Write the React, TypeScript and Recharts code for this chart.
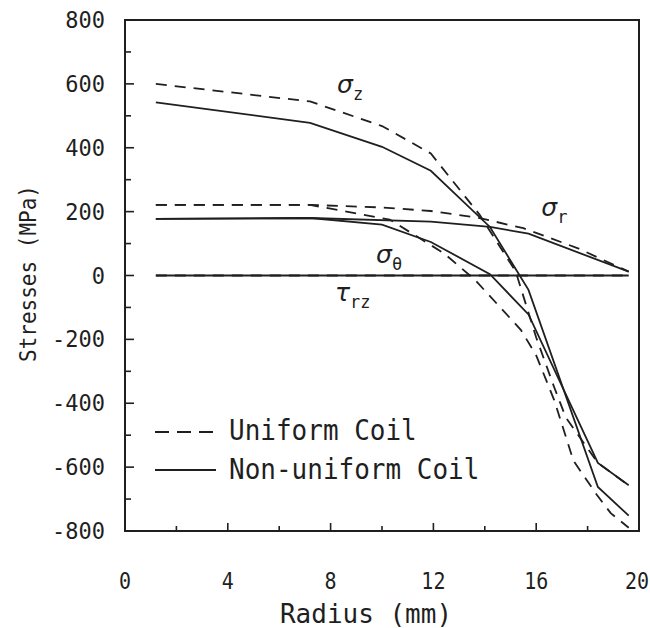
import React from "react";
import { LineChart, Line, XAxis, YAxis, ReferenceArea, ReferenceDot } from "recharts";

const MONO = "'DejaVu Sans Mono', monospace";
const SANS = "'DejaVu Sans', sans-serif";
const INK = "#1f1f1f";

const xTicks = [0, 2, 4, 6, 8, 10, 12, 14, 16, 18, 20];
const xLabelled = [0, 4, 8, 12, 16, 20];
const yTicks = [-800, -700, -600, -500, -400, -300, -200, -100, 0, 100, 200, 300, 400, 500, 600, 700, 800];
const yLabelled = [-800, -600, -400, -200, 0, 200, 400, 600, 800];

// Non-uniform coil (solid)
const nuSzR = [1.2, 7.2, 10, 11.9, 14.2, 15.7, 18.4, 19.6];
const nuSzS = [542, 478, 403, 328, 152, -45, -662, -752];
const nuStR = [1.2, 7.2, 10, 11.9, 14.2, 15.7, 18.4, 19.6];
const nuStS = [177, 180, 159, 105, 4, -122, -587, -657];
const nuSrR = [1.2, 7.2, 11.9, 14.2, 15.7, 19.6];
const nuSrS = [177, 180, 169, 152, 131, 12];
const nuTrzR = [1.2, 19.6];
const nuTrzS = [0, 0];

// Uniform coil (dashed)
const uSzR = [1.2, 7.2, 10, 11.9, 13.8, 15.2, 16, 16.7, 17.15, 18.4, 19.6];
const uSzS = [600, 545, 468, 382, 190, 13, -194, -350, -444, -587, -657];
const uStR = [1.2, 7.2, 10.3, 12.4, 13.6, 15.4, 16, 16.7, 17.45, 18.35, 18.9, 19.6];
const uStS = [221, 221, 175, 70, -12, -170, -250, -390, -580, -686, -744, -790];
const uSrR = [1.2, 7.2, 10, 11.9, 13.8, 15.5, 17.6, 19.6];
const uSrS = [221, 221, 213, 202, 180, 148, 86, 12];
const uTrzR = [1.2, 19.6];
const uTrzS = [0, 0];

// curve name positions (left/baseline of the symbol, data units)
const curveLabels = [
  { x: 8.25, y: 570, main: "σ", sub: "z" },
  { x: 16.2, y: 187, main: "σ", sub: "r" },
  { x: 9.77, y: 40, main: "σ", sub: "θ" },
  { x: 8.17, y: -80, main: "τ", sub: "rz" },
];

const pts = (r: number[], s: number[]) => r.map((x, i) => ({ x, y: s[i] }));

const solid = [pts(nuSzR, nuSzS), pts(nuStR, nuStS), pts(nuSrR, nuSrS), pts(nuTrzR, nuTrzS)];
const dashed = [pts(uSzR, uSzS), pts(uStR, uStS), pts(uSrR, uSrS), pts(uTrzR, uTrzS)];

function Stretch({ x, y, size, sy, anchor, children, rotate }: any) {
  const t = rotate
    ? `translate(${x},${y}) rotate(${rotate}) scale(1,${sy})`
    : `translate(${x},${y}) scale(1,${sy})`;
  return (
    <text transform={t} x={0} y={0} fontFamily={MONO} fontSize={size} fill={INK} textAnchor={anchor || "start"}>
      {children}
    </text>
  );
}

function XTick(props: any) {
  const { x, y, payload } = props;
  const v = payload.value;
  const major = xLabelled.includes(v);
  // keep the last label inside the 650px picture
  const half = (String(v).length * 20 * 0.602) / 2;
  const lx = Math.min(x, 649 - half);
  return (
    <g>
      <line x1={x} x2={x} y1={y} y2={y - (major ? 8 : 5)} stroke={INK} strokeWidth={1.6} />
      {major ? (
        <Stretch x={lx} y={y + 58} size={20} sy={1.12} anchor="middle">
          {v}
        </Stretch>
      ) : null}
    </g>
  );
}

function YTick(props: any) {
  const { x, y, payload } = props;
  const v = payload.value;
  const major = yLabelled.includes(v);
  return (
    <g>
      <line x1={x} x2={x + (major ? 9 : 6)} y1={y} y2={y} stroke={INK} strokeWidth={1.6} />
      {major ? (
        <Stretch x={x - 20} y={y + 8} size={22} sy={1.05} anchor="end">
          {v}
        </Stretch>
      ) : null}
    </g>
  );
}

function curveLabel(main: string, sub: string) {
  return (props: any) => {
    const { x, y } = props.viewBox;
    return (
      <text x={x} y={y} fontFamily={SANS} fill={INK}>
        <tspan fontSize={25} fontStyle="italic">
          {main}
        </tspan>
        <tspan fontSize={17} dy={7} fontFamily={MONO}>
          {sub}
        </tspan>
      </text>
    );
  };
}

export default function App() {
  return (
    <div style={{ position: "absolute", left: 0, top: 0, width: 650, height: 628, background: "#fff" }}>
      <LineChart width={650} height={628} margin={{ top: 20, right: 11, left: 0, bottom: 0 }}>
        <XAxis
          type="number"
          dataKey="x"
          domain={[0, 20]}
          ticks={xTicks}
          interval={0}
          tickSize={0}
          tickMargin={0}
          tickLine={false}
          axisLine={false}
          tick={(p: any) => <XTick {...p} />}
          height={97}
          label={(p: any) => (
            <Stretch x={p.viewBox.x + 241} y={p.viewBox.y + 92} size={26} sy={1.05} anchor="middle">
              Radius (mm)
            </Stretch>
          )}
        />
        <YAxis
          type="number"
          dataKey="y"
          domain={[-800, 800]}
          ticks={yTicks}
          interval={0}
          tickSize={0}
          tickMargin={0}
          tickLine={false}
          axisLine={false}
          tick={(p: any) => <YTick {...p} />}
          width={125}
          label={(p: any) => (
            <Stretch x={36} y={p.viewBox.y + p.viewBox.height / 2 - 2} size={21} sy={1.1} anchor="middle" rotate={-90}>
              Stresses (MPa)
            </Stretch>
          )}
        />
        <ReferenceArea x1={0} x2={20} y1={-800} y2={800} fill="none" stroke={INK} strokeWidth={2} />
        {dashed.map((d, i) => (
          <Line
            key={"u" + i}
            data={d}
            dataKey="y"
            stroke={INK}
            strokeWidth={1.8}
            strokeDasharray="11 8"
            dot={false}
            isAnimationActive={false}
            type="linear"
          />
        ))}
        {solid.map((d, i) => (
          <Line
            key={"n" + i}
            data={d}
            dataKey="y"
            stroke={INK}
            strokeWidth={1.8}
            dot={false}
            isAnimationActive={false}
            type="linear"
          />
        ))}
        {curveLabels.map((c) => (
          <ReferenceDot
            key={c.main + c.sub}
            x={c.x}
            y={c.y}
            r={0}
            fill="none"
            stroke="none"
            label={curveLabel(c.main, c.sub)}
          />
        ))}
      </LineChart>
      <svg
        width={650}
        height={628}
        style={{ position: "absolute", left: 0, top: 0, pointerEvents: "none" }}
      >
        <line x1={155} x2={216} y1={432} y2={432} stroke={INK} strokeWidth={1.8} strokeDasharray="14 8" />
        <Stretch x={229} y={440} size={26} sy={1.12}>
          Uniform Coil
        </Stretch>
        <line x1={155} x2={216} y1={470} y2={470} stroke={INK} strokeWidth={1.8} />
        <Stretch x={229} y={479} size={26} sy={1.12}>
          Non-uniform Coil
        </Stretch>
      </svg>
    </div>
  );
}
